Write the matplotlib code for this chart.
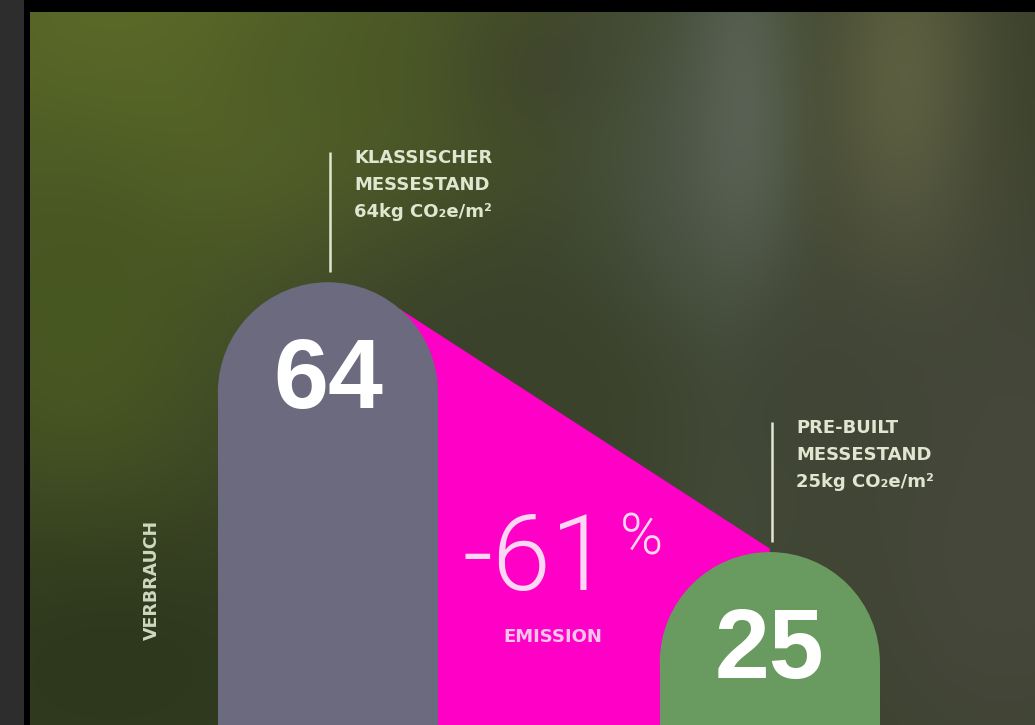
import numpy as np
import matplotlib
matplotlib.use("Agg")
import matplotlib.pyplot as plt
from matplotlib.patches import Ellipse, Polygon, Rectangle

# ---------------- data ----------------
categories = ["KLASSISCHER\nMESSESTAND", "PRE-BUILT\nMESSESTAND"]
values = [64, 25]
unit = "kg CO\u2082e/m\u00b2"
bar_colors = ["#6b6a7f", "#699a5f"]
delta_color = "#ff00c6"
axis_label = "VERBRAUCH"
delta_label = "EMISSION"

# ---------------- figure ----------------
W_PX, H_PX, DPI = 1035, 725, 100
fig = plt.figure(figsize=(W_PX / DPI, H_PX / DPI), dpi=DPI, facecolor="black")
fig.patches.append(Rectangle((0, 0), 24 / W_PX, 1, transform=fig.transFigure,
                             facecolor="#2d2d2d", edgecolor="none", zorder=0))

# blurred photographic background (decorative)
BH, BW = 713, 1005
v, u = np.mgrid[0:BH, 0:BW]
u = u / BW
v = v / BH
img = np.zeros((BH, BW, 3))
img[:] = np.array([56, 63, 40]) / 255
blobs = [
    (0.12, 0.05, 0.22, 0.25, (98, 112, 42)),
    (0.05, 0.45, 0.12, 0.25, (72, 88, 34)),
    (0.35, 0.08, 0.15, 0.12, (78, 92, 38)),
    (0.08, 0.92, 0.18, 0.15, (46, 56, 28)),
    (0.55, 0.08, 0.10, 0.10, (62, 68, 42)),
    (0.66, 0.32, 0.08, 0.28, (76, 86, 70)),
    (0.71, 0.22, 0.04, 0.30, (90, 100, 86)),
    (0.87, 0.15, 0.06, 0.25, (98, 100, 66)),
    (0.97, 0.70, 0.15, 0.35, (70, 72, 60)),
    (0.80, 0.55, 0.10, 0.15, (66, 70, 56)),
    (0.50, 0.55, 0.15, 0.15, (58, 66, 44)),
]
for cx, cy, sx, sy, col in blobs:
    w = np.exp(-((u - cx) ** 2 / (2 * sx ** 2) + (v - cy) ** 2 / (2 * sy ** 2)))[..., None]
    img = img * (1 - w) + (np.array(col) / 255) * w
bg = fig.add_axes([30 / W_PX, 0, BW / W_PX, BH / H_PX])
bg.imshow(img, aspect="auto", interpolation="bilinear")
bg.axis("off")

# ---------------- chart ----------------
ax = fig.add_axes([0, 0, 1, 1])
ax.patch.set_alpha(0)
X0, X1, Y1 = -0.742, 1.6, 104.8
ax.set_xlim(X0, X1)
ax.set_ylim(0, Y1)
ax.axis("off")

x = np.arange(len(values))
bw = 0.498
px_x = W_PX / (X1 - X0)
px_y = H_PX / Y1
ry = (bw / 2) * px_x / px_y

# magenta reduction wedge
dx = 0.163
y_left = values[0] - ry + ry * np.sqrt(1 - (dx / (bw / 2)) ** 2)
ax.add_patch(Polygon([(x[0] + dx, y_left), (x[1], values[1] + 0.5),
                      (x[1], 0), (x[0] + dx, 0)], closed=True,
                     facecolor=delta_color, edgecolor="none", zorder=1))

# rounded bars
ax.bar(x, [val - ry for val in values], width=bw, color=bar_colors, zorder=2,
       linewidth=0)
for xi, val, c in zip(x, values, bar_colors):
    ax.add_patch(Ellipse((xi, val - ry), bw, 2 * ry, facecolor=c,
                         edgecolor="none", zorder=2))
    ax.text(xi, val - 18.2, str(val), ha="center", va="baseline", fontsize=71,
            fontweight="bold", family="Liberation Sans", color="white", zorder=5)

# annotations
label_color = "#e0e6d0"
for xi, val, cat in zip(x, values, categories):
    ax.plot([xi + 0.005, xi + 0.005], [val + 1.5, val + 18.8], color=label_color,
            lw=1.8, zorder=3, solid_capstyle="butt")
    ax.text(xi + 0.06, val + 19.2, f"{cat}\n{val}{unit}", ha="left", va="top",
            fontsize=13, fontweight="bold", family="DejaVu Sans",
            color=label_color, linespacing=1.62, zorder=5)

pct = round((values[1] - values[0]) / values[0] * 100)
ax.text(0.305, 19.5, f"{pct}", ha="left", va="baseline", fontsize=76,
        family=["Roboto", "DejaVu Sans"], fontweight=300, color="#fcd6f3", zorder=5)
ax.text(0.66, 24.6, "%", ha="left", va="baseline", fontsize=42,
        family=["Roboto", "DejaVu Sans"], fontweight=300, color="#fcd6f3", zorder=5)
ax.text(0.51, 12.7, delta_label, ha="center", va="center", fontsize=13,
        fontweight="bold", family="DejaVu Sans", color="#f7c4ec", zorder=5)

ax.text(-0.398, 21.0, axis_label, ha="center", va="center", rotation=90,
        fontsize=12.5, fontweight="bold", family="DejaVu Sans",
        color="#cfd8bf", zorder=5)

fig.savefig("out.png", dpi=DPI, facecolor=fig.get_facecolor())
